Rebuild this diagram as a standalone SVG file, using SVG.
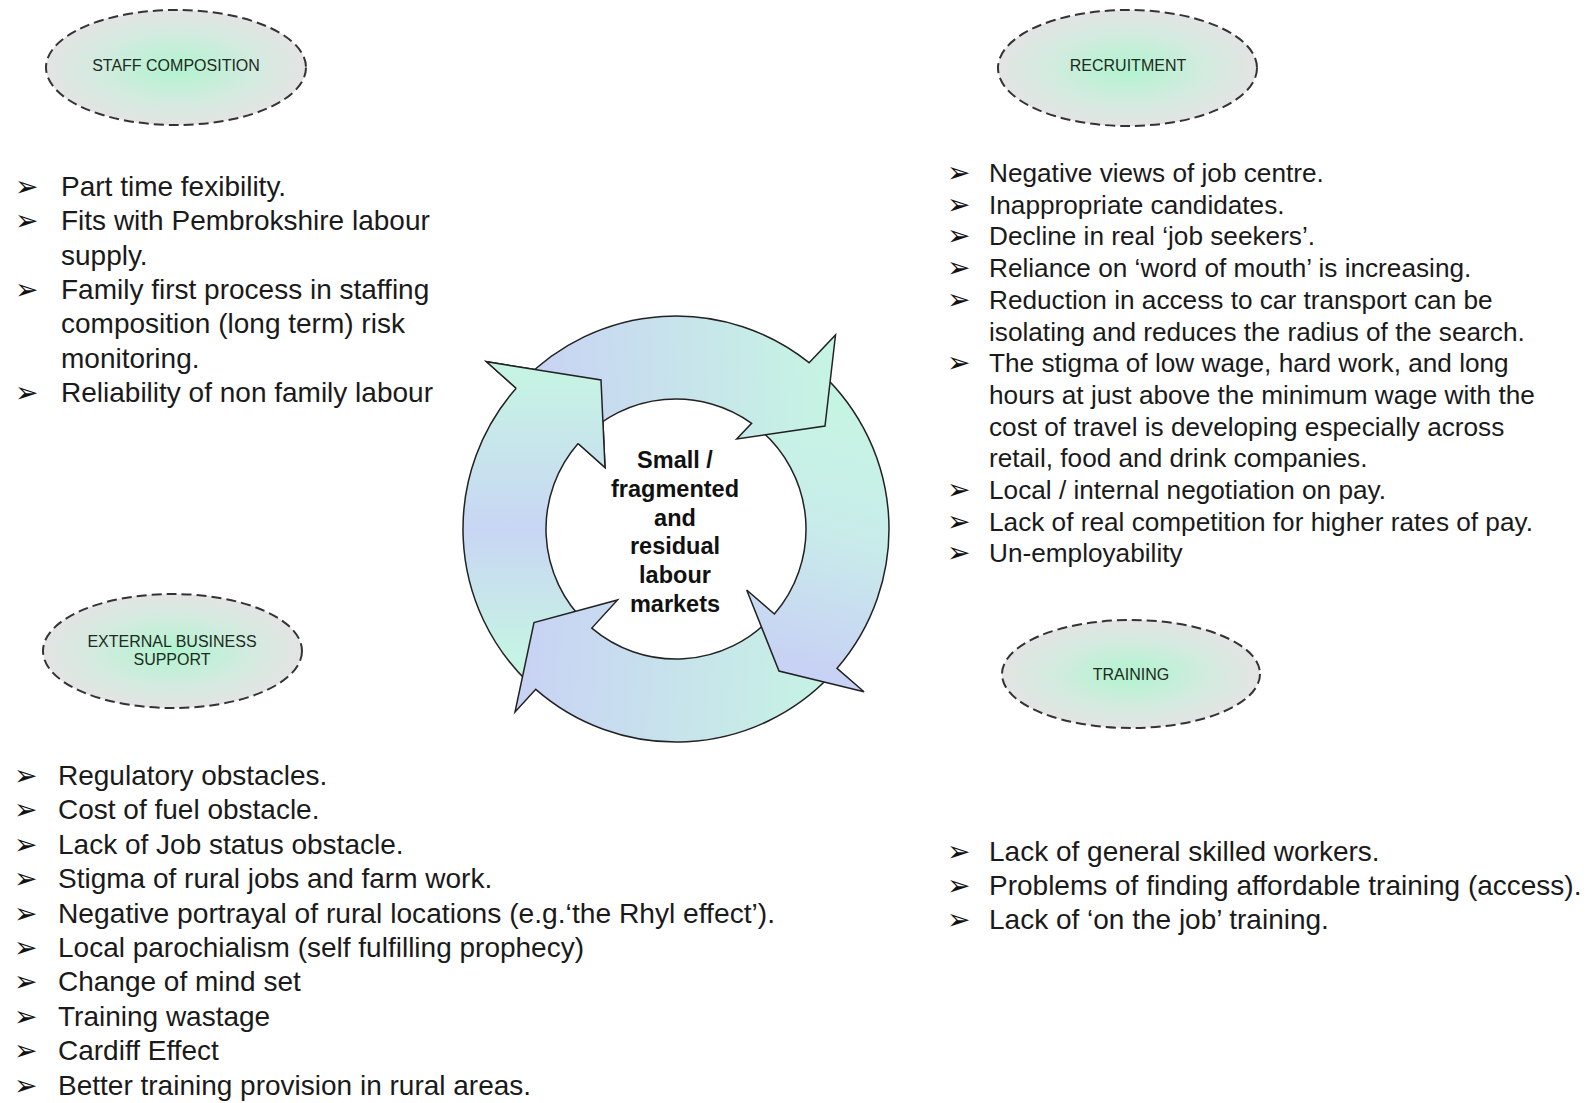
<svg xmlns="http://www.w3.org/2000/svg" width="1594" height="1103" viewBox="0 0 1594 1103">
<style>
.ell{fill:url(#eg);stroke:#333;stroke-width:2;stroke-dasharray:10 5}
.lbl{font-family:"Liberation Sans",Arial,sans-serif;font-size:16px;fill:#1e2a22;text-anchor:middle}
.li{font-family:"Liberation Sans",Arial,sans-serif;font-size:28px;fill:#1a1a1a}
.rl{font-size:26.2px}
.bul{font-family:"DejaVu Sans",sans-serif;font-size:28px;fill:#111}
.ctr{font-family:"Liberation Sans",Arial,sans-serif;font-weight:bold;font-size:23.5px;text-anchor:middle;fill:#111}
.arw{stroke:#222;stroke-width:1.5;stroke-linejoin:miter}
.edge{fill:none;stroke:#222;stroke-width:1.5;stroke-linejoin:miter}
</style>
<defs>
<radialGradient id="eg" cx="0.5" cy="0.5" r="0.5">
<stop offset="0" stop-color="#b0f4cf"/>
<stop offset="0.6" stop-color="#d3ebdf"/>
<stop offset="1" stop-color="#e3e4e3"/>
</radialGradient>
<linearGradient id="gT" gradientUnits="userSpaceOnUse" x1="530" y1="400" x2="830" y2="380">
<stop offset="0" stop-color="#c8d2f4"/><stop offset="1" stop-color="#c6f4e3"/>
</linearGradient>
<linearGradient id="gR" gradientUnits="userSpaceOnUse" x1="860" y1="420" x2="790" y2="660">
<stop offset="0" stop-color="#c6f4e3"/><stop offset="0.45" stop-color="#c8ecea"/><stop offset="1" stop-color="#c8d2f4"/>
</linearGradient>
<linearGradient id="gB" gradientUnits="userSpaceOnUse" x1="840" y1="690" x2="520" y2="660">
<stop offset="0" stop-color="#c6f4e3"/><stop offset="1" stop-color="#c8d2f4"/>
</linearGradient>
<linearGradient id="gL" gradientUnits="userSpaceOnUse" x1="560" y1="660" x2="560" y2="370">
<stop offset="0" stop-color="#c6f4e3"/><stop offset="0.45" stop-color="#c8d6f4"/><stop offset="1" stop-color="#c6f4e3"/>
</linearGradient>
</defs>
<rect width="1594" height="1103" fill="#fff"/>

<g id="staff-composition">
<ellipse class="ell" cx="176" cy="67.5" rx="130" ry="57.5"/>
<text class="lbl" x="176" y="71">STAFF COMPOSITION</text>
</g>
<g id="recruitment">
<ellipse class="ell" cx="1127.5" cy="68" rx="129.5" ry="58"/>
<text class="lbl" x="1128" y="71">RECRUITMENT</text>
</g>
<g id="external-business-support">
<ellipse class="ell" cx="172.5" cy="651" rx="129.5" ry="57"/>
<text class="lbl" x="172" y="647">EXTERNAL BUSINESS</text>
<text class="lbl" x="172" y="665">SUPPORT</text>
</g>
<g id="training">
<ellipse class="ell" cx="1131" cy="674" rx="129" ry="54"/>
<text class="lbl" x="1131" y="680">TRAINING</text>
</g>

<g id="staff-list">
<text class="bul" x="15" y="196">➢</text>
<text class="bul" x="15" y="230.3">➢</text>
<text class="bul" x="15" y="298.9">➢</text>
<text class="bul" x="15" y="401.8">➢</text>
<text class="li" x="61" y="196">Part time fexibility.</text>
<text class="li" x="61" y="230.3">Fits with Pembrokshire labour</text>
<text class="li" x="61" y="264.6">supply.</text>
<text class="li" x="61" y="298.9">Family first process in staffing</text>
<text class="li" x="61" y="333.2">composition (long term) risk</text>
<text class="li" x="61" y="367.5">monitoring.</text>
<text class="li" x="61" y="401.8">Reliability of non family labour</text>
</g>

<g id="recruitment-list">
<text class="bul" x="947" y="182">➢</text>
<text class="bul" x="947" y="213.7">➢</text>
<text class="bul" x="947" y="245.4">➢</text>
<text class="bul" x="947" y="277.1">➢</text>
<text class="bul" x="947" y="308.8">➢</text>
<text class="bul" x="947" y="372.2">➢</text>
<text class="bul" x="947" y="499">➢</text>
<text class="bul" x="947" y="530.7">➢</text>
<text class="bul" x="947" y="562.4">➢</text>
<text class="li rl" x="989" y="182">Negative views of job centre.</text>
<text class="li rl" x="989" y="213.7">Inappropriate candidates.</text>
<text class="li rl" x="989" y="245.4">Decline in real ‘job seekers’.</text>
<text class="li rl" x="989" y="277.1">Reliance on ‘word of mouth’ is increasing.</text>
<text class="li rl" x="989" y="308.8">Reduction in access to car transport can be</text>
<text class="li rl" x="989" y="340.5">isolating and reduces the radius of the search.</text>
<text class="li rl" x="989" y="372.2">The stigma of low wage, hard work, and long</text>
<text class="li rl" x="989" y="403.9">hours at just above the minimum wage with the</text>
<text class="li rl" x="989" y="435.6">cost of travel is developing especially across</text>
<text class="li rl" x="989" y="467.3">retail, food and drink companies.</text>
<text class="li rl" x="989" y="499">Local / internal negotiation on pay.</text>
<text class="li rl" x="989" y="530.7">Lack of real competition for higher rates of pay.</text>
<text class="li rl" x="989" y="562.4">Un-employability</text>
</g>

<g id="external-list">
<text class="bul" x="14" y="785">➢</text>
<text class="bul" x="14" y="819.4">➢</text>
<text class="bul" x="14" y="853.8">➢</text>
<text class="bul" x="14" y="888.2">➢</text>
<text class="bul" x="14" y="922.6">➢</text>
<text class="bul" x="14" y="957">➢</text>
<text class="bul" x="14" y="991.4">➢</text>
<text class="bul" x="14" y="1025.8">➢</text>
<text class="bul" x="14" y="1060.2">➢</text>
<text class="bul" x="14" y="1094.6">➢</text>
<text class="li" x="58" y="785">Regulatory obstacles.</text>
<text class="li" x="58" y="819.4">Cost of fuel obstacle.</text>
<text class="li" x="58" y="853.8">Lack of Job status obstacle.</text>
<text class="li" x="58" y="888.2">Stigma of rural jobs and farm work.</text>
<text class="li" x="58" y="922.6" style="font-size:28.2px">Negative portrayal of rural locations (e.g.‘the Rhyl effect’).</text>
<text class="li" x="58" y="957">Local parochialism (self fulfilling prophecy)</text>
<text class="li" x="58" y="991.4">Change of mind set</text>
<text class="li" x="58" y="1025.8">Training wastage</text>
<text class="li" x="58" y="1060.2">Cardiff Effect</text>
<text class="li" x="58" y="1094.6">Better training provision in rural areas.</text>
</g>

<g id="training-list">
<text class="bul" x="947" y="861">➢</text>
<text class="bul" x="947" y="895">➢</text>
<text class="bul" x="947" y="929">➢</text>
<text class="li" x="989" y="861">Lack of general skilled workers.</text>
<text class="li" x="989" y="895">Problems of finding affordable training (access).</text>
<text class="li" x="989" y="929">Lack of ‘on the job’ training.</text>
</g>

<g id="cycle-connectors">
<path id="arrow-left" class="arw" fill="url(#gL)" d="M529.38 683.5 A213 213 0 0 1 516.17 388.19 L486.5 361.7 L601 380 L605 467.5 L578.09 443.47 A130 130 0 0 0 586.51 623.3 Z"/>
<path id="arrow-bottom" class="arw" fill="url(#gB)" d="M831.78 674.27 A213 213 0 0 1 535.76 689.32 L515 712 L534 622.5 L617.5 600 L591.81 628.07 A130 130 0 0 0 771.08 617.66 Z"/>
<path id="arrow-right" class="arw" fill="url(#gR)" d="M812.91 365.83 A213 213 0 0 1 837.08 668.36 L864 691.7 L779 671 L746.7 590 L774.37 613.99 A130 130 0 0 0 759.56 429.41 Z"/>
<path id="arrow-top" class="arw" fill="url(#gT)" d="M522.78 381.04 A213 213 0 0 1 809.1 362.7 L835.5 335 L825 426 L736.7 439 L751.6 423.3 A130 130 0 0 0 582.49 438.69 Z"/>
<polygon fill="url(#gL)" points="486.5,361.7 601,380 605,467.5"/>
<polyline class="edge" points="516.17,388.19 486.5,361.7 601,380 605,467.5 578.09,443.47"/>
</g>

<g id="center-label">
<text class="ctr" x="675" y="468">Small /</text>
<text class="ctr" x="675" y="496.8">fragmented</text>
<text class="ctr" x="675" y="525.6">and</text>
<text class="ctr" x="675" y="554.4">residual</text>
<text class="ctr" x="675" y="583.2">labour</text>
<text class="ctr" x="675" y="612">markets</text>
</g>
</svg>
